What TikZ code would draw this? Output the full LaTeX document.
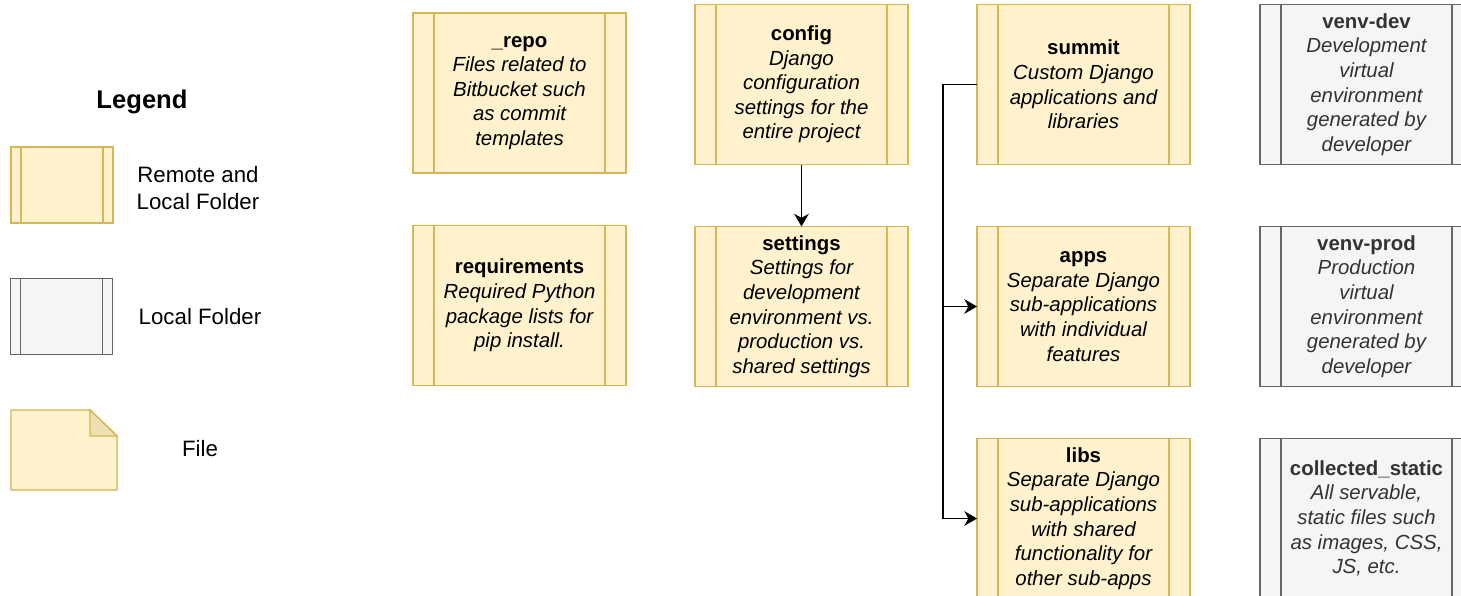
\documentclass[tikz,border=0pt]{standalone}
\usepackage{fontspec}
\setmainfont{Liberation Sans}
\usetikzlibrary{arrows.meta,positioning}
\tikzset{>/.tip={Stealth[length=9.5pt,width=11pt,inset=3pt]}}
\definecolor{yfill}{HTML}{FFF2CC}
\definecolor{ydraw}{HTML}{D6B656}
\definecolor{gfill}{HTML}{F5F5F5}
\definecolor{gdraw}{HTML}{666666}
\definecolor{yfold}{HTML}{EEDFB5}
\definecolor{gtext}{HTML}{333333}
\newcommand\boxfont{\fontsize{15.3}{18.45}\selectfont}
\newcommand\legfont{\fontsize{16.7}{19.6}\selectfont}
\newcommand\fname[1]{{\upshape\bfseries #1}}
\tikzset{
  stripw/.store in=\stripw, stripw=15.75pt,
  stripc/.store in=\stripc, stripc=black,
  folder/.style={draw, line width=1.1pt, align=center, inner sep=0pt, outer sep=0pt,
    minimum width=159.75pt, minimum height=120pt, font=\boxfont\itshape,
    path picture={
      \draw[\stripc, line width=1.1pt]
        ([xshift=\stripw]path picture bounding box.south west) -- ([xshift=\stripw]path picture bounding box.north west)
        ([xshift=-\stripw]path picture bounding box.south east) -- ([xshift=-\stripw]path picture bounding box.north east);}},
  remote/.style={folder, draw=ydraw, fill=yfill, stripc=ydraw},
  local/.style={folder, draw=gdraw, fill=gfill, stripc=gdraw, text=gtext},
  legbox/.style={minimum width=76.5pt, minimum height=57pt, stripw=7.5pt},
  link/.style={->, line width=1.1pt},
}
\begin{document}
\begin{tikzpicture}[x=0.75pt,y=-0.75pt]
  \useasboundingbox (0,0) rectangle (1461,596);
  % legend
  \node[font=\fontsize{19.2}{23}\selectfont\bfseries] (legend) at (142,102) {Legend};
  \node[remote,legbox] (lremote) at (62,185) {};
  \node[font=\legfont,align=center] (lremotetxt) at (198,188) {Remote and\\Local Folder};
  \node[local,legbox] (llocal) at (61.5,316.5) {};
  \node[font=\legfont] (llocaltxt) at (200,317) {Local Folder};
  \draw[draw=ydraw,fill=yfill,line width=1.1pt] (11,410) -- (90,410) -- (117,436) -- (117,490) -- (11,490) -- cycle;
  \draw[draw=ydraw,fill=yfold,line width=1.1pt] (90,410) -- (90,436) -- (117,436) -- cycle;
  \node[font=\legfont] (lfiletxt) at (200,449) {File};
  % folders
  \node[remote] (repo) at (519.5,93) {\fname{\_repo}\\Files related to\\Bitbucket such\\as commit\\templates};
  \node[remote] (requirements) at (519.5,305.5) {\fname{requirements}\\Required Python\\package lists for\\pip install.};
  \node[remote] (config) at (801.5,84.5) {\fname{config}\\Django\\configuration\\settings for the\\entire project};
  \node[remote,below=46.5pt of config] (settings) {\fname{settings}\\Settings for\\development\\environment vs.\\production vs.\\shared settings};
  \node[remote,right=51.75pt of config] (summit) {\fname{summit}\\Custom Django\\applications and\\libraries};
  \node[remote,below=46.5pt of summit] (apps) {\fname{apps}\\Separate Django\\sub-applications\\with individual\\features};
  \node[remote,below=39pt of apps] (libs) {\fname{libs}\\Separate Django\\sub-applications\\with shared\\functionality for\\other sub-apps};
  \node[local,right=52.5pt of summit] (venvdev) {\fname{venv-dev}\\Development\\virtual\\environment\\generated by\\developer};
  \node[local,below=46.5pt of venvdev] (venvprod) {\fname{venv-prod}\\Production\\virtual\\environment\\generated by\\developer};
  \node[local,below=39pt of venvprod] (static) {\fname{collected\_static}\\All servable,\\static files such\\as images, CSS,\\JS, etc.};
  % links
  \draw[link] (config) -- (settings);
  \coordinate (bus) at ([xshift=-25.5pt]summit.west);
  \draw[link] (summit.west) -- (bus) |- (apps.west);
  \draw[link] (bus) |- (libs.west);
\end{tikzpicture}
\end{document}
